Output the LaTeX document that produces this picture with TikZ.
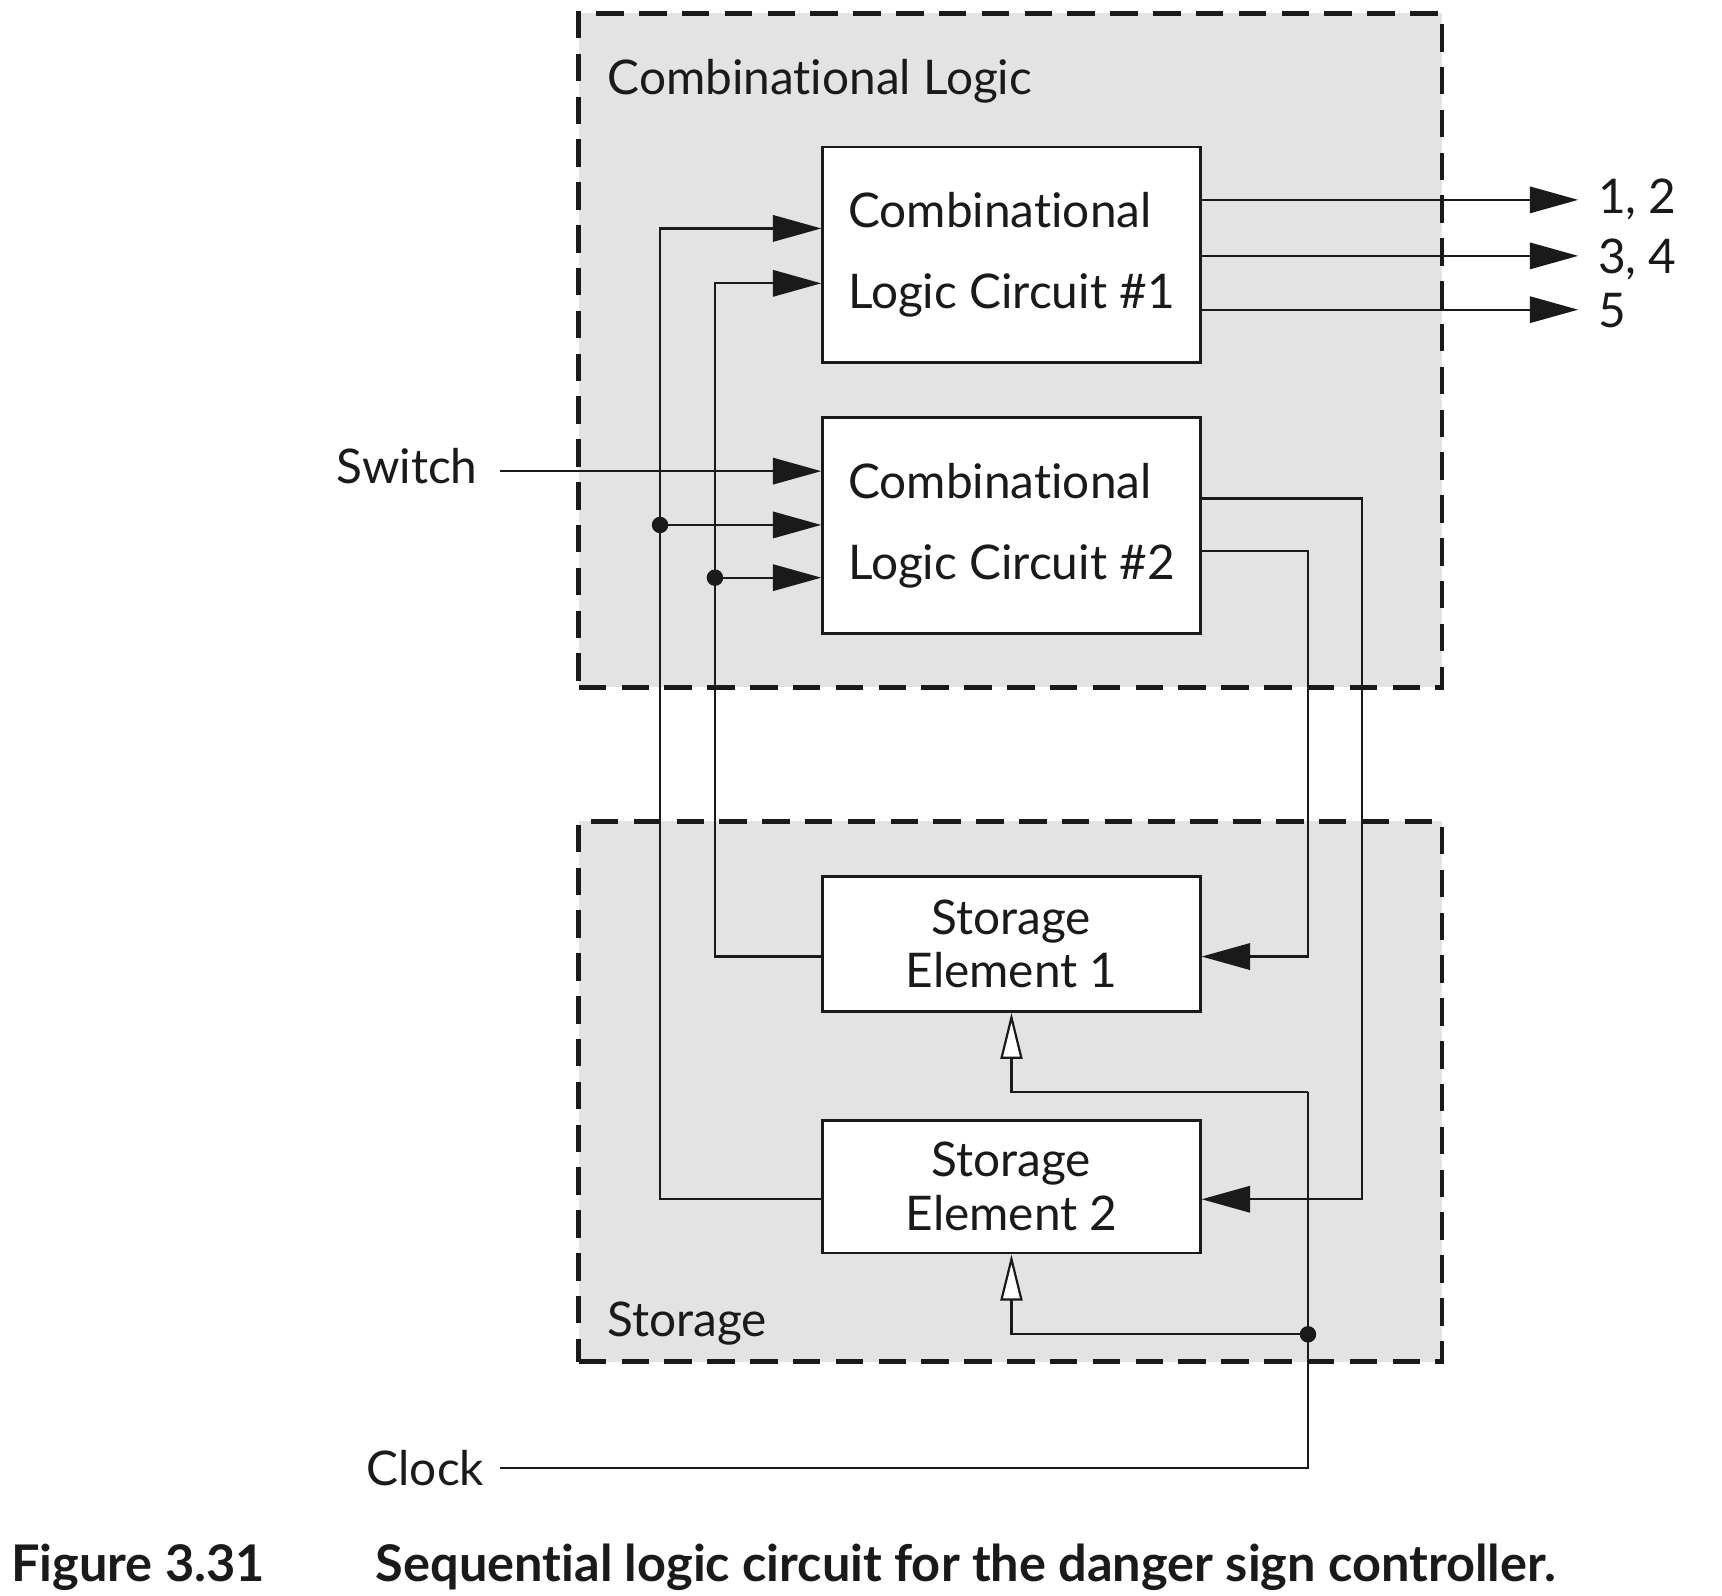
\documentclass[tikz,border=0pt]{standalone}
\usepackage{fontspec}
\setmainfont{Lato}[Ligatures=NoCommon]
\usetikzlibrary{arrows.meta,calc}
\definecolor{panel}{HTML}{E3E3E3}
\definecolor{ink}{HTML}{1A1A1A}
\tikzset{
  container/.style={draw=ink, fill=panel, line width=4.5pt, dash pattern=on 25pt off 14pt, rectangle, inner sep=0pt},
  block/.style={draw=ink, fill=white, line width=2.4pt, rectangle, inner sep=0pt, minimum width=344pt, font=\fontsize{43.5}{74}\selectfont, text=ink},
  wire/.style={draw=ink, line width=2pt},
  sig/.style={wire, -{Triangle[length=44pt,width=24pt]}},
  clk/.style={wire, -{Triangle[open,length=42pt,width=20pt,fill=white]}},
  junct/.style={circle, fill=ink, inner sep=0pt, minimum size=15pt},
  lbl/.style={font=\fontsize{43.5}{50}\selectfont, text=ink, inner sep=0pt},
  captext/.style={font=\bfseries\fontsize{46}{54}\selectfont, text=ink, inner sep=0pt},
}
\begin{document}
\begin{tikzpicture}[x=1pt,y=-1pt]
\useasboundingbox[fill=white] (0,0) rectangle (1568,1453);

% containers
\node[container, minimum width=786pt, minimum height=614pt] (comb) at (920,319) {};
\node[container, minimum width=786pt, minimum height=492pt] (stor) at (920,994) {};
\node[lbl, anchor=base west] (combl) at (553,86) {Combinational Logic};
\node[lbl, anchor=base west] (storl) at (553,1217) {Storage};

% blocks
\node[block, minimum height=196pt, align=left] (cl1) at (921,232) {Combinational\\Logic Circuit \#1};
\node[block, minimum height=197pt, align=left] (cl2) at (921,478.5) {Combinational\\Logic Circuit \#2};
\node[block, minimum height=123pt, align=center, font=\fontsize{43.5}{49}\selectfont] (se1) at (921,859.5) {Storage\\Element 1};
\node[block, minimum height=121pt, align=center, font=\fontsize{43.5}{49}\selectfont] (se2) at (921,1080.5) {Storage\\Element 2};

% outputs
\coordinate (t1) at (1437,182);
\coordinate (t2) at (1437,233);
\coordinate (t3) at (1437,282);
\node[lbl, anchor=west] (o1) at (1455,182) {1, 2};
\node[lbl, anchor=west] (o2) at (1455,236) {3, 4};
\node[lbl, anchor=west] (o3) at (1455,283) {5};
\draw[sig] (cl1.east |- t1) -- (t1);
\draw[sig] (cl1.east |- t2) -- (t2);
\draw[sig] (cl1.east |- t3) -- (t3);

% feedback from storage to combinational logic
\coordinate (a1) at (601,208);
\coordinate (a2) at (601,1092);
\coordinate (b1) at (651,258);
\coordinate (b2) at (651,871);
\draw[sig] (se2.west |- a2) -- (a2) -- (a1) -- (cl1.west |- a1);
\draw[sig] (se1.west |- b2) -- (b2) -- (b1) -- (cl1.west |- b1);
\node[junct] (d1) at (601,478) {};
\node[junct] (d2) at (651,526) {};
\draw[sig] (d1) -- (cl2.west |- d1);
\draw[sig] (d2) -- (cl2.west |- d2);

% switch input
\coordinate (s1) at (749,429);
\node[lbl, anchor=east, inner xsep=20pt] (sw) at (455,424) {Switch};
\draw[sig] ([yshift=-5pt]sw.east) -- (cl2.west |- s1);

% next-state lines
\coordinate (e1) at (1240,454);
\coordinate (e2) at (1240,1092);
\coordinate (f1) at (1191,502);
\coordinate (f2) at (1191,871);
\draw[sig] (cl2.east |- e1) -- (e1) -- (e2) -- (se2.east |- e2);
\draw[sig] (cl2.east |- f1) -- (f1) -- (f2) -- (se1.east |- f2);

% clock
\node[lbl, anchor=east, inner xsep=14pt] (ck) at (455,1337) {Clock};
\coordinate (c1) at (1191,994);
\node[junct] (d3) at (1191,1215) {};
\draw[wire] (ck.east) -| (c1);
\draw[clk] (c1) -| (se1.south);
\draw[clk] (d3) -| (se2.south);

% caption
\node[captext, anchor=base west] (fig) at (10,1440) {Figure 3.31};
\node[captext, anchor=base west] (capt) at (342,1440) {Sequential logic circuit for the danger sign controller.};
\end{tikzpicture}
\end{document}
